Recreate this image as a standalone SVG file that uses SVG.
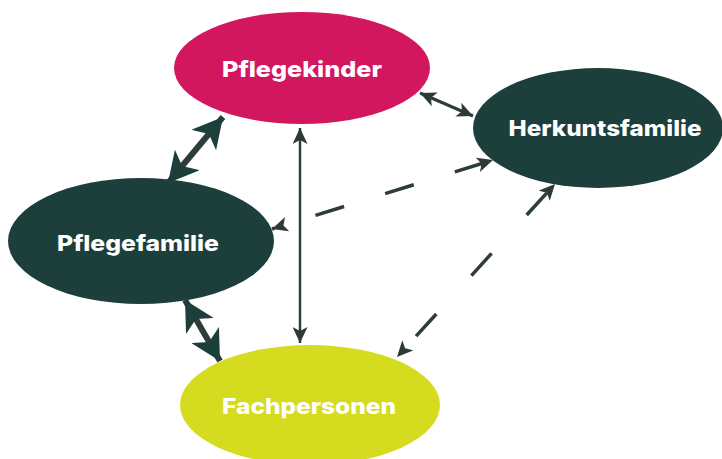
<svg xmlns="http://www.w3.org/2000/svg" width="722" height="459" viewBox="0 0 722 459">
<style>
.lbl{font-family:Inter,"Open Sans","Liberation Sans",sans-serif;font-weight:800;font-size:22px;fill:#ffffff;text-anchor:middle;dominant-baseline:central}
.dark{fill:#1d3f3b}
.conn{stroke:#2d3d3a;fill:none}
</style>
<defs>
<marker id="big" markerUnits="userSpaceOnUse" viewBox="0 0 30 32" refX="30" refY="16" markerWidth="30" markerHeight="32" orient="auto-start-reverse">
<path d="M0,0 L30,16 L0,32 L8,16 Z" fill="#1d3f3b"/>
</marker>
<marker id="small" markerUnits="userSpaceOnUse" viewBox="0 0 16 15" refX="16" refY="7.5" markerWidth="16" markerHeight="15" orient="auto-start-reverse">
<path d="M0,0 L16,7.5 L0,15 L4,7.5 Z" fill="#2d3a38"/>
</marker>
</defs>
<g id="node-pflegekinder"><ellipse cx="302" cy="68" rx="128" ry="56" fill="#d3175f"/><text class="lbl" x="302" y="69" textLength="160" lengthAdjust="spacingAndGlyphs">Pflegekinder</text></g>
<g id="node-herkuntsfamilie"><ellipse class="dark" cx="598" cy="128" rx="125" ry="60"/><text class="lbl" x="605" y="128" textLength="193" lengthAdjust="spacingAndGlyphs">Herkuntsfamilie</text></g>
<g id="node-pflegefamilie"><ellipse class="dark" cx="141" cy="241" rx="133" ry="63"/><text class="lbl" x="138" y="243" textLength="162" lengthAdjust="spacingAndGlyphs">Pflegefamilie</text></g>
<g id="node-fachpersonen"><ellipse cx="310" cy="405" rx="130" ry="60" fill="#d5dc1f"/><text class="lbl" x="309" y="406" textLength="174" lengthAdjust="spacingAndGlyphs">Fachpersonen</text></g>
<g id="connectors">
<line class="conn" x1="223" y1="117" x2="168" y2="183" stroke-width="6" stroke="#1d3f3b" marker-start="url(#big)" marker-end="url(#big)"/>
<line class="conn" x1="185" y1="300" x2="220" y2="361" stroke-width="6" stroke="#1d3f3b" marker-start="url(#big)" marker-end="url(#big)"/>
<line class="conn" x1="420" y1="93" x2="473" y2="116" stroke-width="3" marker-start="url(#small)" marker-end="url(#small)"/>
<line class="conn" x1="300" y1="128" x2="300" y2="343" stroke-width="2.5" stroke="#1d3f3b" marker-start="url(#small)" marker-end="url(#small)"/>
<line class="conn" x1="493" y1="160" x2="272" y2="229" stroke-width="3.5" stroke-dasharray="0 10 30 33" marker-start="url(#small)" marker-end="url(#small)"/>
<line class="conn" x1="555" y1="184" x2="397" y2="357" stroke-width="3.5" stroke-dasharray="0 12 30 40" marker-start="url(#small)" marker-end="url(#small)"/>
</g>
</svg>
